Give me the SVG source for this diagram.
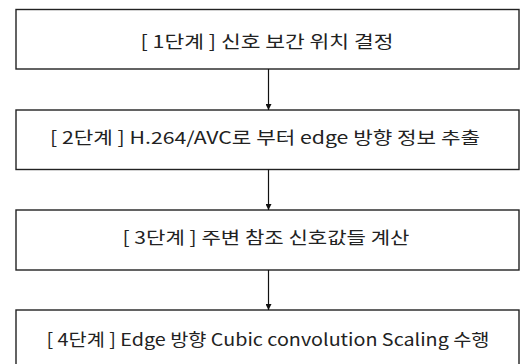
<svg xmlns="http://www.w3.org/2000/svg" width="521" height="364" viewBox="0 0 521 364">
<style>
.box{fill:#fff;stroke:#222;stroke-width:1.4}
.lbl{font-family:"Malgun Gothic","Noto Sans CJK KR",sans-serif;font-size:17px;fill:#222;text-anchor:middle;dominant-baseline:central}
.conn{stroke:#111;stroke-width:1.2;fill:none}
</style>
<defs>
<marker id="ah" markerWidth="6" markerHeight="6" refX="6" refY="3" orient="auto" markerUnits="userSpaceOnUse">
<path d="M0,0 L6,3 L0,6 Z" fill="#111"/>
</marker>
</defs>
<rect width="521" height="364" fill="#fff"/>
<g id="step1"><rect class="box" x="16" y="9.5" width="503" height="59.5"/><text class="lbl" x="267" y="40" textLength="253" lengthAdjust="spacingAndGlyphs">[ 1단계 ] 신호 보간 위치 결정</text></g>
<g id="step2"><rect class="box" x="16" y="110" width="503" height="59.5"/><text class="lbl" x="265" y="136" textLength="430" lengthAdjust="spacingAndGlyphs">[ 2단계 ] H.264/AVC로 부터 edge 방향 정보 추출</text></g>
<g id="step3"><rect class="box" x="16" y="210" width="503" height="60"/><text class="lbl" x="266" y="236" textLength="287" lengthAdjust="spacingAndGlyphs">[ 3단계 ] 주변 참조 신호값들 계산</text></g>
<g id="step4"><rect class="box" x="16" y="310" width="503" height="60"/><text class="lbl" x="268" y="338" textLength="443" lengthAdjust="spacingAndGlyphs">[ 4단계 ] Edge 방향 Cubic convolution Scaling 수행</text></g>
<g id="connectors">
<line class="conn" x1="268.5" y1="69" x2="268.5" y2="110" marker-end="url(#ah)"/>
<line class="conn" x1="268.5" y1="169.5" x2="268.5" y2="210" marker-end="url(#ah)"/>
<line class="conn" x1="268.5" y1="270" x2="268.5" y2="310" marker-end="url(#ah)"/>
</g>
</svg>
